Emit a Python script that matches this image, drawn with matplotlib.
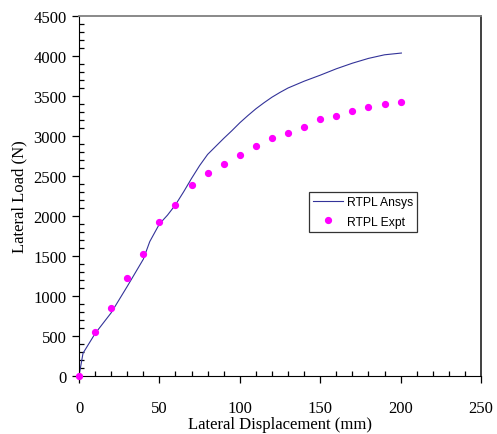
import matplotlib
matplotlib.use("Agg")
import matplotlib.pyplot as plt
from matplotlib.ticker import MultipleLocator

# Experimental test results
expt_disp = [0, 10, 20, 30, 40, 50, 60, 70, 80, 90, 100,
             110, 120, 130, 140, 150, 160, 170, 180, 190, 200]
expt_load = [0, 555, 852, 1225, 1530, 1930, 2135, 2385, 2535, 2645, 2768,
             2878, 2970, 3042, 3113, 3208, 3250, 3317, 3358, 3396, 3425]

# Finite element (Ansys) prediction
ansys_disp = [0, 2.5, 10, 20, 30, 40, 44, 50, 55, 60, 65, 70, 75, 80, 85,
              90, 95, 100, 105, 110, 115, 120, 125, 130, 140, 150, 160,
              170, 180, 190, 200.5]
ansys_load = [0, 285, 530, 790, 1120, 1460, 1680, 1900, 2010, 2140, 2300,
              2470, 2630, 2770, 2870, 2970, 3065, 3165, 3255, 3340, 3415,
              3485, 3545, 3600, 3685, 3760, 3840, 3910, 3970, 4015, 4037]

fig = plt.figure(figsize=(4.97, 4.35), dpi=100)
ax = fig.add_axes([79 / 497, 58 / 435, 402 / 497, 360 / 435])

ax.plot(ansys_disp, ansys_load, color="#333399", lw=0.8, label="RTPL Ansys")
ax.plot(expt_disp, expt_load, ls="none", marker="o", ms=4.2,
        color="#ff00ff", mec="#ff00ff", label="RTPL Expt", clip_on=False,
        zorder=3)

ax.set_xlim(0, 250)
ax.set_ylim(0, 4500)
ax.xaxis.set_major_locator(MultipleLocator(50))
ax.xaxis.set_minor_locator(MultipleLocator(10))
ax.yaxis.set_major_locator(MultipleLocator(500))
ax.yaxis.set_minor_locator(MultipleLocator(100))

serif = "Liberation Serif"
ax.tick_params(which="major", direction="out", length=5, width=0.9,
               labelsize=12)
ax.tick_params(which="minor", direction="in", length=3.5, width=0.9)
for lab in ax.get_xticklabels() + ax.get_yticklabels():
    lab.set_fontfamily(serif)
ax.tick_params(axis="x", pad=12)
ax.tick_params(axis="y", pad=4)

ax.spines["left"].set_color("black")
ax.spines["bottom"].set_color("black")
ax.spines["top"].set_color("#808080")
ax.spines["top"].set_linewidth(1.3)
ax.spines["right"].set_color("#202020")
ax.spines["right"].set_linewidth(1.2)

ax.set_xlabel("Lateral Displacement (mm)", fontfamily=serif, fontsize=12,
              labelpad=0.5)
ax.set_ylabel("Lateral Load (N)", fontfamily=serif, fontsize=12, labelpad=4)

leg = ax.legend(loc="upper left", bbox_to_anchor=(0.572, 0.511),
                prop={"family": "Liberation Sans", "size": 8.7},
                frameon=True, fancybox=False, edgecolor="black",
                borderpad=0.35, handlelength=2.5, handletextpad=0.3,
                labelspacing=0.6, borderaxespad=0)
leg.get_frame().set_linewidth(0.9)

fig.savefig("out.png", dpi=100)
